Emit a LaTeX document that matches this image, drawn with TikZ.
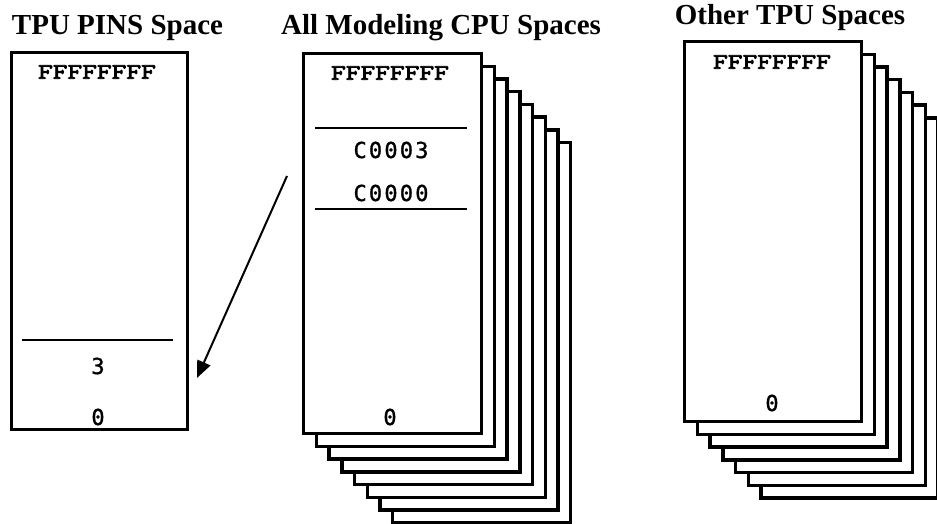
\documentclass[tikz,border=0pt]{standalone}
\usepackage{fontspec}
\setmainfont{Liberation Serif}
\newfontfamily\hexfont[FakeBold=4, FakeStretch=1.3]{Latin Modern Mono}
\newfontfamily\addrfont[LetterSpace=10, FakeBold=1.2]{DejaVu Sans Mono}
\usetikzlibrary{positioning, arrows.meta}

\tikzset{
  spacebox/.style={draw, fill=white, line width=3.4pt, minimum width=178pt, minimum height=380pt, inner sep=0pt, anchor=north west},
  heading/.style={font=\bfseries\fontsize{29}{32}\selectfont, anchor=base},
  hex/.style={font=\hexfont\fontsize{22}{24}\selectfont, inner sep=0pt},
  addr/.style={font=\addrfont\fontsize{22}{24}\selectfont, inner sep=0pt},
  divider/.style={line width=2pt},
}

\begin{document}
\begin{tikzpicture}[x=1pt, y=-1pt]
    \useasboundingbox (0,0) rectangle (937,524);
    % TITLES
    \node[heading] (pinstitle) at (117.5,35) {TPU PINS Space};
    \node[heading] (cputitle) at (441,35) {All Modeling CPU Spaces};
    \node[heading] (othertitle) at (790,25) {Other TPU Spaces};
    % PINS
    \begin{scope}[shift={(10,51)}]
        \node[spacebox, minimum width=176pt, minimum height=377pt] (pins) at (0,0) {};
        \node[hex] (pinstop) at (87,21) {FFFFFFFF};
        \draw[divider] (12,289) -- (163,289);
        \node[addr] (pinsthree) at (88,315) {3};
        \node[addr] (pinszero) at (88,366) {0};
    \end{scope}
    % CPU
    \begin{scope}[shift={(302,52)}]
        \foreach \i in {7,...,1}
            \node[spacebox] (cpu\i) at ({12.7*\i},{12.7*\i}) {};
        \node[spacebox] (cpu) at (0,0) {};
        \node[hex] (cputop) at (88,21) {FFFFFFFF};
        \draw[divider] (13,76) -- (165,76);
        \node[addr] (cpuhigh) at (89,98) {C0003};
        \node[addr] (cpulow) at (89,141) {C0000};
        \draw[divider] (13,157) -- (165,157);
        \node[addr] (cpuzero) at (88,365) {0};
    \end{scope}
    % OTHER
    \begin{scope}[shift={(683,40)}]
        \foreach \i in {6,...,1}
            \node[spacebox, minimum width=177pt] (other\i) at ({12.7*\i},{12.7*\i}) {};
        \node[spacebox, minimum width=177pt] (other) at (0,0) {};
        \node[hex] (othertop) at (89,22) {FFFFFFFF};
        \node[addr] (otherzero) at (89,363) {0};
    \end{scope}
    % ARROW
    \coordinate (src) at (287,176);
    \coordinate (dst) at (197,378);
    \draw[-{Triangle[length=17pt, width=14pt]}, line width=2pt] (src) -- (dst);
\end{tikzpicture}
\end{document}
